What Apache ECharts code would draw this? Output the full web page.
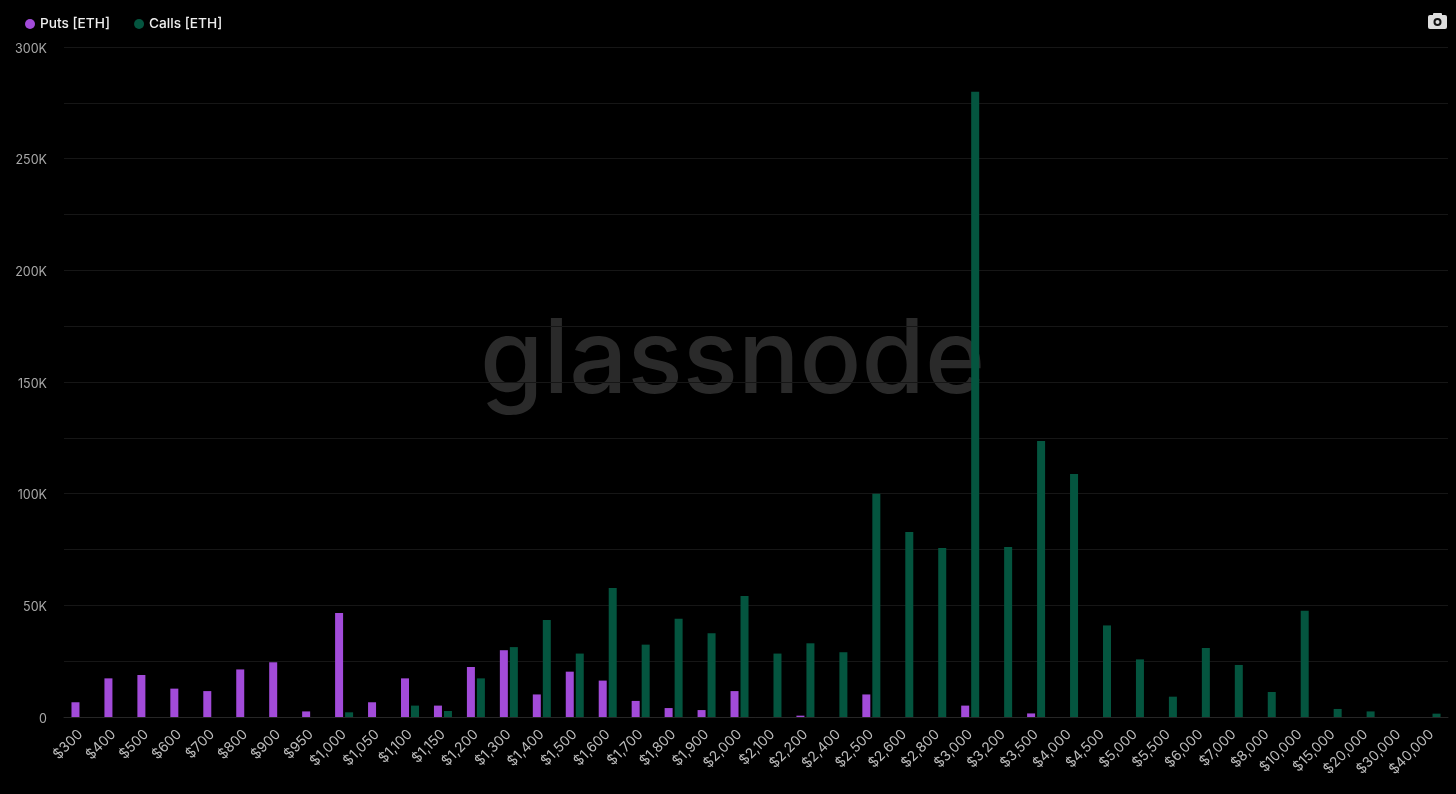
<!DOCTYPE html>
<html>
<head>
<meta charset="utf-8">
<style>html,body{margin:0;padding:0;background:#000;}#c{width:1456px;height:794px;}</style>
<script src="https://cdn.jsdelivr.net/npm/echarts@6/dist/echarts.min.js"></script>
</head>
<body>
<div id="c"></div>
<script>
const strikes = ['$300','$400','$500','$600','$700','$800','$900','$950','$1,000','$1,050','$1,100','$1,150','$1,200','$1,300','$1,400','$1,500','$1,600','$1,700','$1,800','$1,900','$2,000','$2,100','$2,200','$2,400','$2,500','$2,600','$2,800','$3,000','$3,200','$3,500','$4,000','$4,500','$5,000','$5,500','$6,000','$7,000','$8,000','$10,000','$15,000','$20,000','$30,000','$40,000'];
const puts = [6600,17300,18800,12700,11600,21300,24500,2500,46600,6600,17300,5100,22400,29900,10100,20300,16300,7200,4000,3100,11600,0,600,0,10100,0,0,5100,0,1600,0,0,0,0,0,0,0,0,0,0,0,0];
const calls = [0,0,0,0,0,0,0,0,2100,0,5100,2700,17300,31300,43400,28400,57800,32400,44000,37500,54200,28400,33000,29000,100000,82800,75700,280000,76100,123600,108800,41000,25800,9100,30900,23300,11200,47600,3600,2500,0,1500];
const FONT = 'Inter, "Noto Sans", sans-serif';
const chart = echarts.init(document.getElementById('c'), null, {renderer:'canvas'});
chart.setOption({
  backgroundColor:'#000',
  animation:false,
  textStyle:{fontFamily:FONT},
  legend:{
    left:20, top:12, icon:'circle', itemWidth:10, itemHeight:10, itemGap:24,
    textStyle:{color:'#eeeeee', fontSize:13.7, fontWeight:500, fontFamily:FONT},
    data:['Puts [ETH]','Calls [ETH]']
  },
  grid:{left:64, right:8, top:47, bottom:77, containLabel:false},
  xAxis:{
    type:'category', data:strikes,
    axisTick:{show:false},
    axisLine:{lineStyle:{color:'#262626', width:1}},
    axisLabel:{color:'#bcbcbc', fontSize:14, rotate:45, interval:0, margin:15, fontFamily:FONT}
  },
  yAxis:{
    type:'value', min:0, max:300000, interval:25000,
    axisLine:{show:false}, axisTick:{show:false},
    splitLine:{lineStyle:{color:'#161616', width:1}},
    axisLabel:{color:'#a8a8a8', fontSize:12.5, margin:17, verticalAlign:'top', lineHeight:4, fontFamily:FONT,
      formatter:v => v===0 ? '0' : (v%50000===0 ? (v/1000)+'K' : '')}
  },
  graphic:[
    {type:'text', left:480, top:311, z:0, silent:true,
     style:{text:'glassnode', fill:'#2a2a2a', font:'500 102.5px Inter, "Noto Sans", sans-serif'}},
    {type:'group', left:1428, top:13, children:[
      {type:'rect', shape:{x:0,y:2,width:19,height:14,r:2}, style:{fill:'#dddddd'}},
      {type:'rect', shape:{x:5,y:0,width:9,height:4,r:1}, style:{fill:'#dddddd'}},
      {type:'circle', shape:{cx:9.5,cy:9,r:4}, style:{fill:'#111111'}},
      {type:'circle', shape:{cx:9.5,cy:9,r:2}, style:{fill:'#dddddd'}}
    ]}
  ],
  series:[
    {name:'Puts [ETH]', type:'bar', data:puts, barWidth:8, barGap:'25%', itemStyle:{color:'#a24bd9'}, z:2},
    {name:'Calls [ETH]', type:'bar', data:calls, barWidth:8, itemStyle:{color:'#04553f'}, z:2}
  ]
});
</script>
</body>
</html>
